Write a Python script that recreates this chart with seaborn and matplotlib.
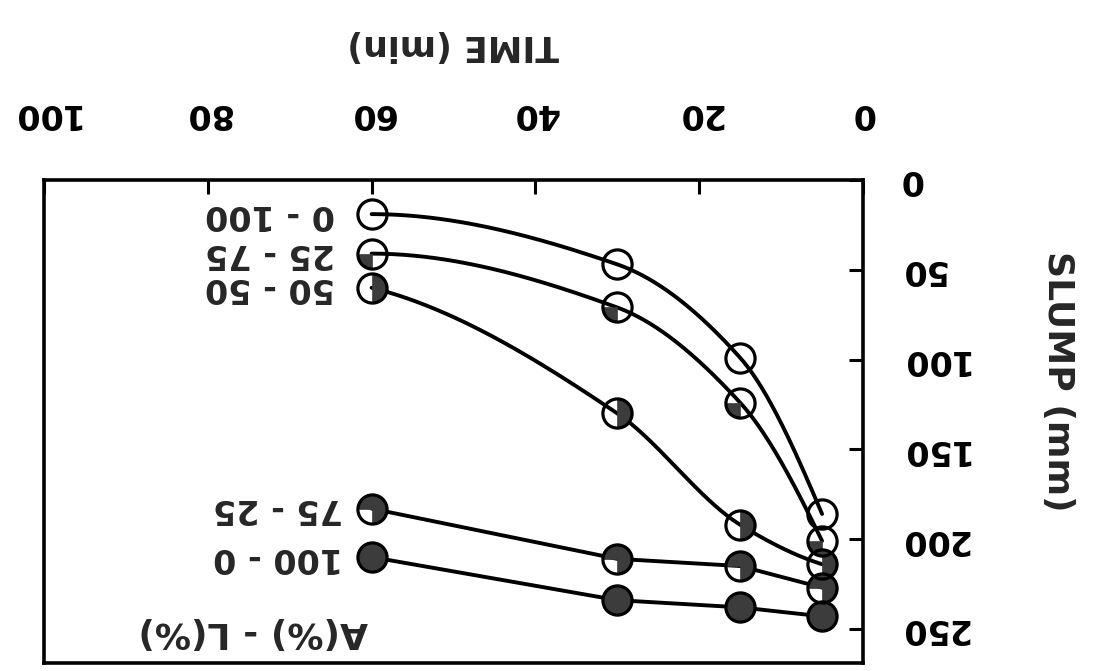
import numpy as np
import matplotlib
matplotlib.use("Agg")
import matplotlib.pyplot as plt
from matplotlib.path import Path
from matplotlib.markers import MarkerStyle
import seaborn as sns

# ---------------- data ----------------
times = [5, 15, 30, 60]                      # TIME (min)
mix_labels = ["0 - 100", "25 - 75", "50 - 50", "75 - 25", "100 - 0"]
slump_0_100 = [186, 99, 47, 19]              # SLUMP (mm)
slump_25_75 = [201, 124, 71, 41]
slump_50_50 = [214, 192, 130, 60]
slump_75_25 = [227, 215, 211, 183]
slump_100_0 = [243, 238, 234, 210]
x_ticks = [0, 20, 40, 60, 80, 100]
y_ticks = [0, 50, 100, 150, 200, 250]
x_label = "TIME (min)"
y_label = "SLUMP (mm)"
legend_title = "A(%) - L(%)"

series = [slump_0_100, slump_25_75, slump_50_50, slump_75_25, slump_100_0]
smooth = [True, True, True, False, False]
# dark wedge (degrees, display frame) for each composition
wedges = [None, (180, 270), (-90, 90), (-90, 180), (0, 360)]

DARK = "#3c3c3c"

sns.set_style("white")
plt.rcParams["font.family"] = ["DejaVu Sans"]
plt.rcParams["font.weight"] = "bold"


def pchip(x, y, xs):
    x = np.asarray(x, float)
    y = np.asarray(y, float)
    order = np.argsort(x)
    x, y = x[order], y[order]
    h = np.diff(x)
    d = np.diff(y) / h
    n = len(x)
    m = np.zeros(n)
    for k in range(1, n - 1):
        if d[k - 1] * d[k] > 0:
            w1 = 2 * h[k] + h[k - 1]
            w2 = h[k] + 2 * h[k - 1]
            m[k] = (w1 + w2) / (w1 / d[k - 1] + w2 / d[k])
    def endslope(h0, h1, d0, d1):
        s = ((2 * h0 + h1) * d0 - h0 * d1) / (h0 + h1)
        if np.sign(s) != np.sign(d0):
            s = 0.0
        elif np.sign(d0) != np.sign(d1) and abs(s) > abs(3 * d0):
            s = 3 * d0
        return s
    m[0] = endslope(h[0], h[1], d[0], d[1])
    m[-1] = endslope(h[-1], h[-2], d[-1], d[-2])
    xs = np.asarray(xs, float)
    idx = np.clip(np.searchsorted(x, xs) - 1, 0, n - 2)
    t = (xs - x[idx]) / h[idx]
    h00 = 2 * t**3 - 3 * t**2 + 1
    h10 = t**3 - 2 * t**2 + t
    h01 = -2 * t**3 + 3 * t**2
    h11 = t**3 - t**2
    return (h00 * y[idx] + h10 * h[idx] * m[idx]
            + h01 * y[idx + 1] + h11 * h[idx] * m[idx + 1])


def wedge_marker(t1, t2):
    ang = np.radians(np.linspace(t1, t2, 181))
    if t2 - t1 >= 360:
        pts = [(np.cos(a), np.sin(a)) for a in ang]
    else:
        pts = [(0.0, 0.0)] + [(np.cos(a), np.sin(a)) for a in ang] + [(0.0, 0.0)]
    return MarkerStyle(Path(pts, closed=True))


fig = plt.figure(figsize=(10.93, 6.71), dpi=100)
ax = fig.add_axes([44 / 1093, 1 - 663 / 671, (863 - 44) / 1093, (663 - 180) / 671])

MS = 21
for vals, sm, wd in zip(series, smooth, wedges):
    if sm:
        xs = np.linspace(min(times), max(times), 300)
        ys = pchip(times, vals, xs)
    else:
        xs, ys = times, vals
    sns.lineplot(x=xs, y=ys, color="black", linewidth=2.8, ax=ax,
                 estimator=None, sort=False, zorder=2)
    if wd is not None:
        sns.lineplot(x=times, y=vals, marker=wedge_marker(*wd), markersize=MS,
                     linestyle="", markerfacecolor=DARK, markeredgecolor=DARK,
                     markeredgewidth=0.5, color=DARK, ax=ax, estimator=None,
                     sort=False, zorder=3)
    sns.lineplot(x=times, y=vals, marker="o", markersize=MS, linestyle="",
                 markerfacecolor="none", markeredgecolor="black",
                 markeredgewidth=2.3, color="black", ax=ax, estimator=None,
                 sort=False, zorder=4)

# labels next to the 60-min points
label_x = [64.5, 64.5, 64.5, 63.5, 63.5]
for lab, vals, lx in zip(mix_labels, series, label_x):
    ax.text(lx, vals[-1], lab, rotation=180, rotation_mode="anchor",
            ha="left", va="center", fontsize=24, fontweight="bold")
ax.text(60.5, 252, legend_title, rotation=180, rotation_mode="anchor",
        ha="left", va="center", fontsize=26, fontweight="bold")

ax.set_xlim(100, 0)
ax.set_ylim(269, 0)
ax.xaxis.tick_top()
ax.xaxis.set_label_position("top")
ax.yaxis.tick_right()
ax.yaxis.set_label_position("right")
ax.set_xticks(x_ticks)
ax.set_yticks(y_ticks)
ax.tick_params(axis="both", direction="in", length=10, width=2.2,
               labelsize=24, colors="black")
ax.tick_params(axis="x", pad=36, labelrotation=180)
ax.tick_params(axis="y", pad=26, labelrotation=180)
for lab in ax.get_xticklabels() + ax.get_yticklabels():
    lab.set_fontweight("bold")
for lab in ax.get_yticklabels():
    lab.set_verticalalignment("center")
for sp in ax.spines.values():
    sp.set_linewidth(2.6)
    sp.set_color("black")

ax.set_xlabel(x_label, fontsize=25, fontweight="bold", rotation=180,
              ha="center", va="center")
ax.xaxis.set_label_coords(0.5, (663 - 45) / 483)
ax.set_ylabel(y_label, fontsize=26, fontweight="bold", rotation=270,
              rotation_mode="anchor", ha="center", va="center")
ax.yaxis.set_label_coords((1058 - 44) / 819, (663 - 381) / 483)

fig.savefig("out.png", dpi=100, facecolor="white")
